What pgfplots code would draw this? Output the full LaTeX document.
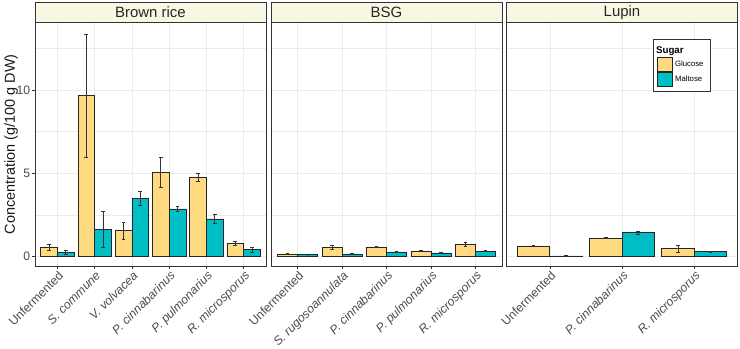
\documentclass[border=0pt]{standalone}
\usepackage{fontspec}
\setmainfont{Liberation Sans}
\usepackage{pgfplots}
\pgfplotsset{compat=1.18}
\usepackage{pgfplotstable}
\definecolor{gluc}{HTML}{FFDA80}
\definecolor{malt}{HTML}{00BFC4}
\definecolor{strip}{HTML}{F7F7E3}

\pgfplotstableread{
x g ge m me
1 0.58 0.18 0.27 0.11
2 9.66 3.70 1.64 1.08
3 1.56 0.50 3.50 0.42
4 5.06 0.88 2.86 0.14
5 4.76 0.22 2.26 0.26
6 0.80 0.14 0.42 0.14
}\brownrice
\pgfplotstableread{
x g ge m me
1 0.16 0.02 0.12 0.01
2 0.54 0.12 0.14 0.03
3 0.58 0.02 0.28 0.03
4 0.34 0.04 0.22 0.02
5 0.74 0.10 0.32 0.03
}\bsg
\pgfplotstableread{
x g ge m me
1 0.64 0.05 0.04 0.01
2 1.10 0.03 1.44 0.08
3 0.48 0.20 0.30 0.04
}\lupin

\pgfplotsset{
  panel/.style={
    scale only axis, width=231bp, height=243.3bp,
    ymin=-0.57, ymax=14.03, xmin=0.4,
    ytick={0,5,10}, minor ytick={2.5,7.5,12.5},
    xmajorgrids, ymajorgrids, yminorgrids,
    major grid style={draw=black!8, line width=0.55bp},
    minor grid style={draw=black!8, line width=0.3bp},
    axis line style={draw=black!80, line width=0.6bp},
    tick align=outside, major tick length=3bp, minor tick length=0pt,
    tick style={draw=black!80, line width=0.55bp},
    xtick pos=left, ytick pos=left,
    tick label style={font=\fontsize{12.3}{14}\selectfont, text=black!70},
    xticklabel style={rotate=45, anchor=north east, inner sep=0.5bp, yshift=-0.5bp},
    yticklabel style={inner sep=1.5bp},
    /pgf/number format/assume math mode=true,
    title style={at={(0.5,1)}, anchor=south, yshift=-6pt, fill=strip, draw=black!80,
      line width=0.6bp, minimum width=231bp, minimum height=20bp, inner sep=0pt,
      font=\fontsize{15}{17}\selectfont, text=black!85},
  },
  errb/.style={
    error bars/y dir=both, error bars/y explicit,
    error bars/error bar style={draw=black!80, line width=0.55bp},
    error bars/error mark options={rotate=90, mark size=1.8bp, draw=black!80, line width=0.55bp}},
  gbar/.style={ybar, bar width=0.45, bar shift=0pt, fill=gluc, draw=black!85, line width=0.65bp, errb},
  mbar/.style={ybar, bar width=0.45, bar shift=0pt, fill=malt, draw=black!85, line width=0.65bp, errb},
}

\begin{document}
\begin{tikzpicture}
\path[use as bounding box] (0,0) rectangle (740bp,349bp);

\begin{axis}[panel, at={(35bp,83bp)}, anchor=south west,
  xmax=6.6, xtick={1,...,6},
  xticklabels={Unfermented,\textit{S. commune},\textit{V. volvacea},\textit{P. cinnabarinus},\textit{P. pulmonarius},\textit{R. microsporus}},
  title={Brown rice},
  ylabel={Concentration (g/100 g DW)},
  ylabel style={at={(rel axis cs:0,0.5)}, anchor=south, inner sep=0pt, yshift=17bp,
    font=\fontsize{14.5}{16}\selectfont, text=black!90},
]
\addplot[gbar] table[x expr=\thisrow{x}-0.225, y=g, y error=ge] {\brownrice};
\addplot[mbar] table[x expr=\thisrow{x}+0.225, y=m, y error=me] {\brownrice};
\end{axis}

\begin{axis}[panel, at={(271bp,83bp)}, anchor=south west,
  xmax=5.6, xtick={1,...,5}, yticklabels={},
  every y tick/.style={draw=none},
  xticklabels={Unfermented,\textit{S. rugosoannulata},\textit{P. cinnabarinus},\textit{P. pulmonarius},\textit{R. microsporus}},
  title={BSG},
]
\addplot[gbar] table[x expr=\thisrow{x}-0.225, y=g, y error=ge] {\bsg};
\addplot[mbar] table[x expr=\thisrow{x}+0.225, y=m, y error=me] {\bsg};
\end{axis}

\begin{axis}[panel, at={(506.5bp,83bp)}, anchor=south west,
  xmax=3.6, xtick={1,...,3}, yticklabels={},
  every y tick/.style={draw=none},
  xticklabels={Unfermented,\textit{P. cinnabarinus},\textit{R. microsporus}},
  title={Lupin},
  legend style={at={(0.632,0.931)}, anchor=north west, draw=black!80, line width=0.5bp,
    fill=white, font=\fontsize{7.8}{9}\selectfont, inner xsep=4.5bp, inner ysep=5bp,
    row sep=0bp, cells={anchor=west}},
  legend cell align=left,
]
\addplot[forget plot, gbar] table[x expr=\thisrow{x}-0.225, y=g, y error=ge] {\lupin};
\addplot[forget plot, mbar] table[x expr=\thisrow{x}+0.225, y=m, y error=me] {\lupin};
\addlegendimage{empty legend}
\addlegendentry{\hspace*{-19bp}\fontsize{9.8}{12}\selectfont\bfseries Sugar}
\addlegendimage{legend image code/.code={\draw[fill=gluc, draw=black!85, line width=0.8bp] (0bp,-7bp) rectangle (15bp,7bp);}}
\addlegendentry{Glucose}
\addlegendimage{legend image code/.code={\draw[fill=malt, draw=black!85, line width=0.8bp] (0bp,-7bp) rectangle (15bp,7bp);}}
\addlegendentry{Maltose}
\end{axis}
\end{tikzpicture}
\end{document}
